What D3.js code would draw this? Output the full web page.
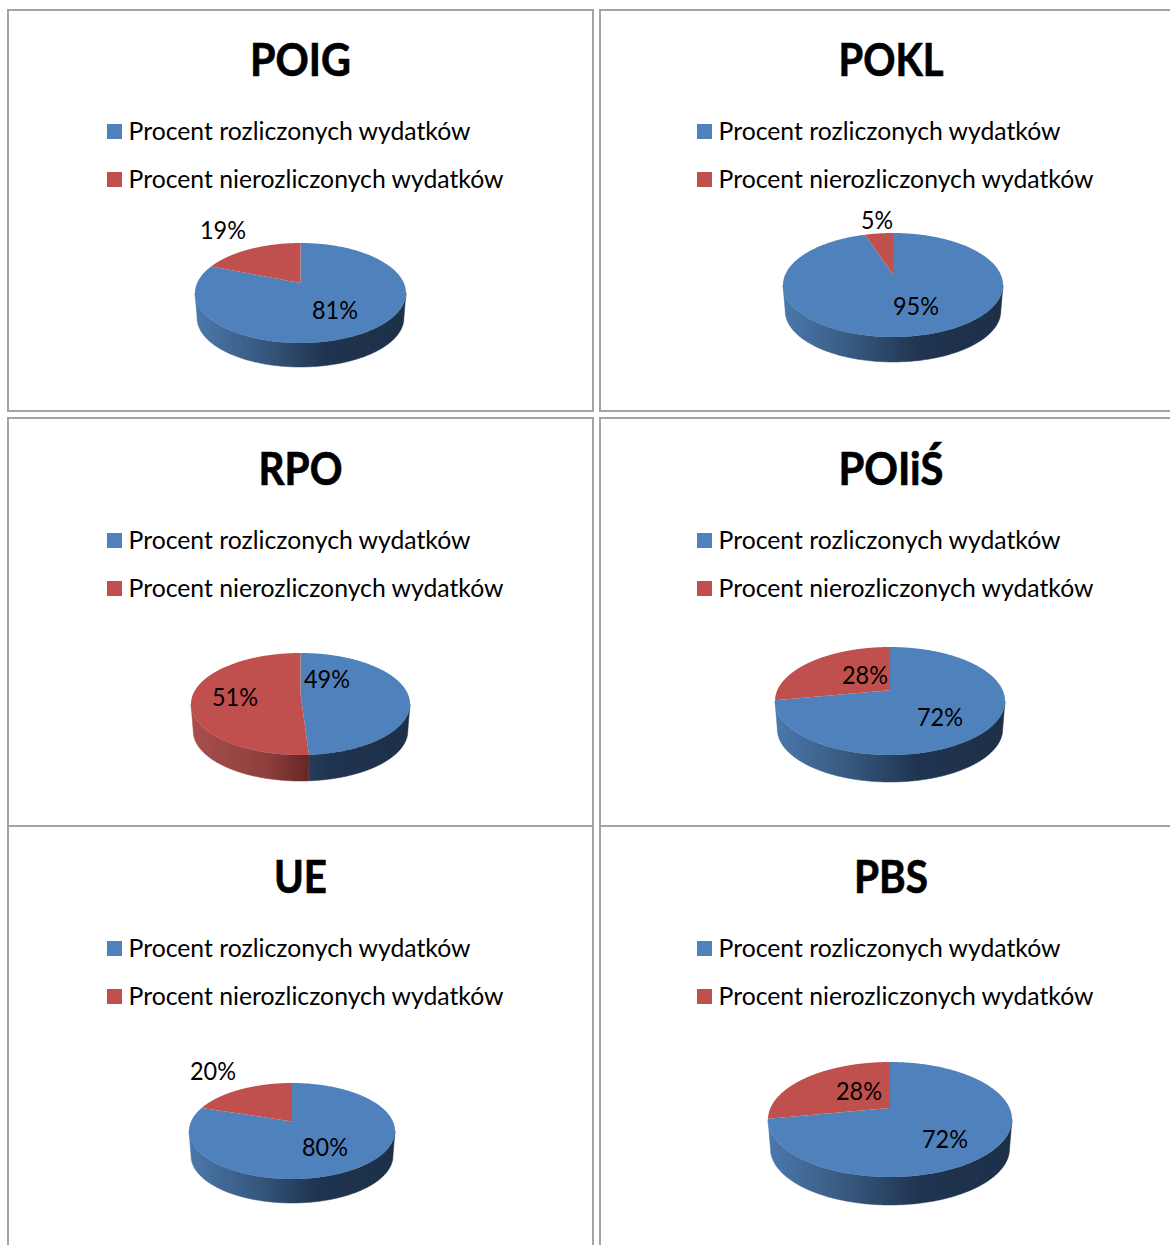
<!DOCTYPE html>
<html><head><meta charset="utf-8">
<script src="https://cdn.jsdelivr.net/npm/d3@7/dist/d3.min.js"></script>
<style>html,body{margin:0;padding:0;background:#fff;overflow:hidden}svg{display:block}text{font-family:Lato,"Open Sans",sans-serif;fill:#000}</style>
</head><body><svg id="c" width="1170" height="1245"></svg>
<script>
// Data
const titles = ["POIG","POKL","RPO","POIiŚ","UE","PBS"];
const settled = [81,95,49,72,80,72];
const unsettled = [19,5,51,28,20,28];
const seriesNames = ["Procent rozliczonych wydatków","Procent nierozliczonych wydatków"];

// Layout (separate from data)
const panelBoxes = [[8,10,585,401],[600,10,600,401],[8,418,585,408],[600,418,600,408],[8,826,585,450],[600,826,600,450]];
const pieBoxes = [ // left, right, top, bottom, wall bottom
  [195,406,243,343,367],[783,1003,233,337,362],[191,410,653,755,781],
  [775,1005,647,755,782],[189,395,1083,1179,1203],[768,1012,1062,1177,1205]];
const labelPos = [
  [[335,311],[223,231]],[[916,307],[877,221]],[[327,680],[235,698]],
  [[940,718],[865,676]],[[325,1148],[213,1072]],[[945,1140],[859,1092]]];
const titleX = [300.5,891,300.5,891,300.5,891];
const titleBase = [76,76,485,485,893,893];
const titleWidth = [101,105,84,105,53,74];
const legendX = [107,697,107,697,107,697];
const legendY = [132,132,541,541,949,949];

const colors = ["#4f81bd","#c0504d"];
const wallStops = [
  [["0","#4b78ad"],["0.32","#37597f"],["0.62","#1f3450"],["1","#1d3048"]],
  [["0","#a84e4b"],["0.35","#8c3f3c"],["0.55","#642523"],["1","#642523"]]];

const svg = d3.select("#c");
const defs = svg.append("defs");
const pie = d3.pie().sort(null).value(d=>d);
const line = d3.line();
const K = 0.2;

titles.forEach((title,i)=>{
  const box = panelBoxes[i];
  svg.append("rect").attr("x",box[0]).attr("y",box[1]).attr("width",box[2]).attr("height",box[3])
    .attr("fill","#fff").attr("stroke","#a3a3a3").attr("stroke-width",2);
});

titles.forEach((title,i)=>{
  const g = svg.append("g");
  g.append("text").attr("x",titleX[i]).attr("y",titleBase[i]).attr("text-anchor","middle")
    .attr("font-size",45).attr("font-weight",700).attr("stroke","#000").attr("stroke-width",0.7)
    .attr("textLength",titleWidth[i]).attr("lengthAdjust","spacingAndGlyphs").text(title);

  seriesNames.forEach((name,s)=>{
    const y = legendY[i]+s*48;
    g.append("rect").attr("x",legendX[i]).attr("y",y-8).attr("width",15).attr("height",15).attr("fill",colors[s]);
    g.append("text").attr("x",legendX[i]+21.5).attr("y",y+8).attr("font-size",25)
      .attr("textLength",s?375:342).attr("lengthAdjust","spacingAndGlyphs").text(name);
  });

  const [l,r,top,bottom,wall] = pieBoxes[i];
  const cx=(l+r)/2, rx=(r-l)/2, H=bottom-top;
  const apexY = top+0.4*H, midY=(top+bottom)/2;
  const R = rx*Math.sqrt(1-K*K), S = H*0.48;
  const project = a=>{ // angle clockwise from 12 o'clock
    const u=Math.sin(a), v=-Math.cos(a), w=1-K*v;
    return [cx+R*u/w, apexY+S*v/w];
  };
  const shrink=0.98, drop=wall-midY-(H/2)*shrink;
  const lower = p=>[cx+(p[0]-cx)*shrink, midY+(p[1]-midY)*shrink+drop];

  [0,1].forEach(s=>{
    const grad = defs.append("linearGradient").attr("id",`w${i}_${s}`)
      .attr("gradientUnits","userSpaceOnUse").attr("x1",l).attr("x2",r).attr("y1",0).attr("y2",0);
    wallStops[s].forEach(st=>grad.append("stop").attr("offset",st[0]).attr("stop-color",st[1]));
  });

  const arcs = pie([settled[i],unsettled[i]]);
  const rimOf = d=>d3.range(0,361).map(t=>project(d.startAngle+(d.endAngle-d.startAngle)*t/360));
  // side walls: only the part of the rim that faces the viewer
  arcs.forEach((d,s)=>{
    const rim = rimOf(d).filter(p=>p[1]>=midY-0.5);
    if(rim.length<2) return;
    g.append("path").attr("d",line(rim.concat(rim.map(lower).reverse()))+"Z")
      .attr("fill",`url(#w${i}_${s})`).attr("stroke",`url(#w${i}_${s})`).attr("stroke-width",0.5);
  });
  // top surface
  arcs.forEach((d,s)=>{
    g.append("path").attr("d",line([[cx,apexY]].concat(rimOf(d)))+"Z").attr("fill",colors[s]);
  });
  // labels
  [settled[i],unsettled[i]].forEach((v,s)=>{
    const p = labelPos[i][s];
    g.append("text").attr("x",p[0]).attr("y",p[1]+8).attr("text-anchor","middle")
      .attr("font-size",25).attr("textLength",v<10?32:46).attr("lengthAdjust","spacingAndGlyphs").text(v+"%");
  });
});
</script></body></html>
